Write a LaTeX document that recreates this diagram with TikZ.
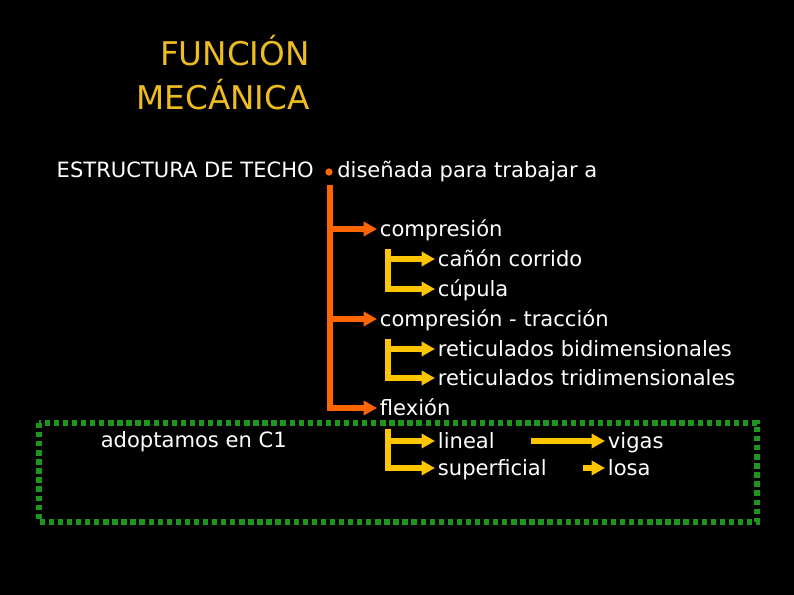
\documentclass[tikz,border=0pt]{standalone}
\usepackage{fontspec}
\setmainfont{DejaVu Sans}
\usetikzlibrary{arrows.meta,positioning}
\definecolor{flame}{RGB}{255,102,0}
\definecolor{gold}{RGB}{255,198,0}
\definecolor{mustard}{RGB}{238,188,32}
\definecolor{moss}{RGB}{28,150,28}
\tikzset{
  >={Triangle[length=10pt,width=10.5pt]},
  heading/.style={text=mustard,font=\fontsize{24.5}{29}\selectfont,inner sep=0pt},
  txt/.style={text=white,font=\fontsize{15.8}{19}\selectfont,inner sep=0pt},
  lbl/.style={txt,inner xsep=2pt,text height=16pt,text depth=4pt,anchor=west},
  flow/.style={->,line width=4.5pt,draw=#1},
  flow/.default=flame,
  greenframe/.style={draw=moss,line width=4pt,dash pattern=on 4pt off 2.8pt},
}
\begin{document}
\begin{tikzpicture}[x=0.75pt,y=-0.75pt]
  \fill[black] (0,0) rectangle (794,595);
  % title
  \node[heading,anchor=base east] (fun) at (310,66) {FUNCIÓN};
  \node[heading,anchor=base east] (mec) at (310,110) {MECÁNICA};
  \node[txt,anchor=base east] (techo) at (314,178) {ESTRUCTURA DE TECHO};
  \node[circle,fill=flame,minimum size=5.5pt,inner sep=0pt] (dot) at (329,172) {};
  \node[txt,anchor=base west] (dis) at (337,178) {diseñada para trabajar a};
  % frame
  \draw[greenframe] (39,423) rectangle (757,522);
  \node[txt,anchor=base east] (adopt) at (287,448) {adoptamos en C1};
  % main branches
  \coordinate (otop) at (330,185);
  \node[lbl] (comp) at (377,229) {compresión};
  \node[lbl] (comptr) at (377,319) {compresión - tracción};
  \node[lbl] (flex) at (377,408) {flexión};
  \draw[flow] (otop) |- (comp.west);
  \draw[flow] (otop) |- (comptr.west);
  \draw[flow] (otop) |- (flex.west);
  % compresion
  \coordinate (ytop1) at (388,249);
  \node[lbl] (canon) at (435,259) {cañón corrido};
  \node[lbl] (cup) at (435,289) {cúpula};
  \draw[flow=gold] (ytop1) |- (canon.west);
  \draw[flow=gold] (ytop1) |- (cup.west);
  % compresion - traccion
  \coordinate (ytop2) at (388,339);
  \node[lbl] (bidim) at (435,349) {reticulados bidimensionales};
  \node[lbl] (tridim) at (435,378) {reticulados tridimensionales};
  \draw[flow=gold] (ytop2) |- (bidim.west);
  \draw[flow=gold] (ytop2) |- (tridim.west);
  % flexion
  \coordinate (ytop3) at (388,429);
  \node[lbl] (lin) at (435,441) {lineal};
  \node[lbl] (sup) at (435,468) {superficial};
  \node[lbl] (vig) at (605,441) {vigas};
  \node[lbl] (losa) at (605,468) {losa};
  \draw[flow=gold] (ytop3) |- (lin.west);
  \draw[flow=gold] (ytop3) |- (sup.west);
  \draw[flow=gold,shorten <=25pt] (lin.east) -- (vig.west);
  \draw[flow=gold,shorten <=25pt] (sup.east) -- (losa.west);
\end{tikzpicture}
\end{document}
